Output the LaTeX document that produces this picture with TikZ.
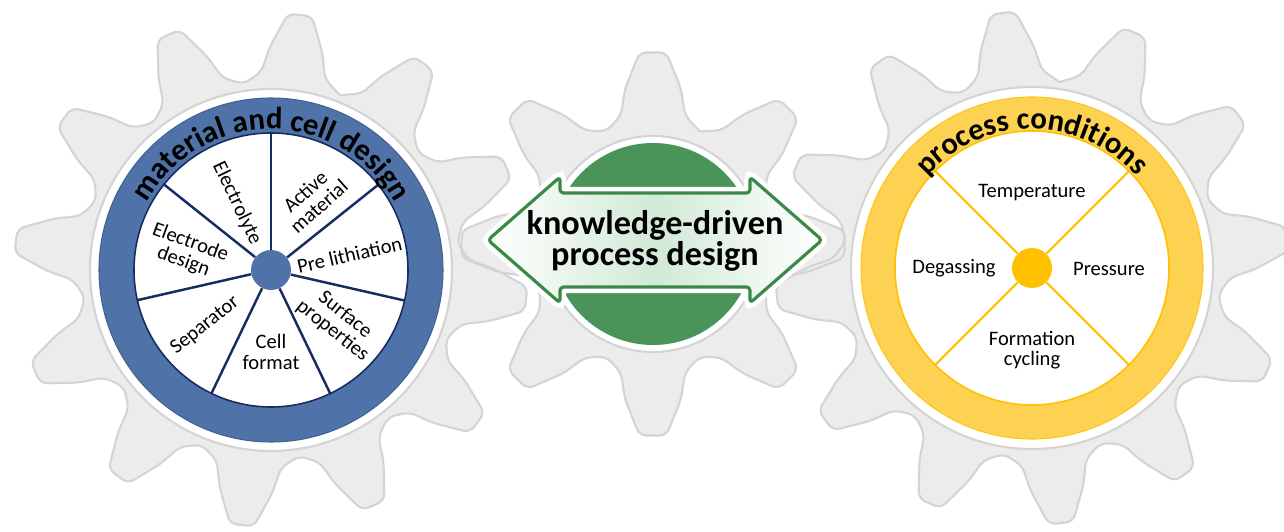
\documentclass[tikz,border=0pt]{standalone}
\usepackage{fontspec}
\setmainfont{Carlito}
\usetikzlibrary{decorations.text}
\definecolor{gearfill}{RGB}{236,236,236}
\definecolor{gearline}{RGB}{212,212,212}
\definecolor{ringblue}{RGB}{79,114,169}
\definecolor{spokeblue}{RGB}{22,45,99}
\definecolor{hubgreen}{RGB}{74,148,90}
\definecolor{arrowgreen}{RGB}{56,138,70}
\definecolor{palegreen}{RGB}{210,233,214}
\definecolor{ringyellow}{RGB}{253,210,83}
\definecolor{darkyellow}{RGB}{255,192,0}
\newcommand{\titlefont}{\fontsize{17.5}{20}\selectfont\bfseries}
% teeth, first tooth angle, root radius, tip radius
\newcommand{\gearpath}[4]{({#2-180/#1}:#3)
  \foreach \k in {1,...,#1}{
    -- ({#2+(\k-1.31)*360/#1}:{#3+0.15*(#4-#3)})
    -- ({#2+(\k-1.23)*360/#1}:{(#3+#4)/2})
    -- ({#2+(\k-1.09)*360/#1}:#4)
    -- ({#2+(\k-0.91)*360/#1}:#4)
    -- ({#2+(\k-0.77)*360/#1}:{(#3+#4)/2})
    -- ({#2+(\k-0.69)*360/#1}:{#3+0.15*(#4-#3)})
    -- ({#2+(\k-0.5)*360/#1}:#3)}}
\tikzset{gearbody/.style={fill=gearfill, rounded corners=4pt}}
\tikzset{gearedge/.style={draw=gearline, line width=1.2pt, rounded corners=4pt, line join=round, line cap=round}}
\tikzset{hub/.style={fill=white, draw=gearline, line width=1.2pt}}
\tikzset{spoke/.style={draw=spokeblue, line width=1.4pt}}
\tikzset{yspoke/.style={draw=darkyellow, line width=1.2pt}}
\tikzset{lab/.style={font=\fontsize{11.7}{11.5}\selectfont, align=center, inner sep=0pt}}
\tikzset{arrowbox/.style={draw=arrowgreen, line width=1.8pt, rounded corners=2pt, line join=round,
    left color=white, right color=white, middle color=palegreen,
    preaction={draw=white, line width=7pt}}}

\begin{document}
\begin{tikzpicture}[x=0.02cm, y=0.02cm]
	\useasboundingbox (0,0) rectangle (1284,531);
	\clip (0,0) rectangle (1284,531);
	\coordinate (lc) at (271,261);
	\coordinate (mc) at (653,287);
	\coordinate (rc) at (1032,263);
	% gears
	\fill[gearbody, shift={(mc)}] \gearpath{8}{90}{122}{192};
	\fill[gearbody, shift={(lc)}] \gearpath{12}{83.5}{188}{257};
	\fill[gearbody, shift={(rc)}] \gearpath{12}{96.5}{188}{257};
	\draw[gearedge, shift={(mc)}] \gearpath{8}{90}{122}{192};
	\draw[gearedge, shift={(lc)}] \gearpath{12}{83.5}{188}{257};
	\draw[gearedge, shift={(rc)}] \gearpath{12}{96.5}{188}{257};
	% material and cell design
	\draw[hub] (lc) circle[radius=181];
	\draw[fill=ringblue, draw=ringblue!85!black, line width=0.6pt] (lc) circle[radius=172];
	\draw[fill=white, draw=spokeblue, line width=0.9pt] (lc) circle[radius=137];
	\node[circle, fill=ringblue, minimum size=0.8cm, inner sep=0pt] (ldot) at (lc) {};
	\foreach \k in {0,...,6} {
		\pgfmathsetmacro\a{90+\k*360/7}
		\draw[spoke] (ldot.\a) -- +(\a:117);
	}
	\path[decorate, decoration={text along path, text align=center,
		text={|\titlefont|material and cell design}}]
		(lc) ++(170:141) arc[start angle=170, end angle=10, radius=141];
	\node[lab, rotate=-64.3] (elyte) at ([shift={(117:75)}]lc) {Electrolyte};
	\node[lab, rotate=42] (active) at ([shift={(60:82)}]lc) {Active\\material};
	\node[lab, rotate=13] (preli) at ([shift={(11:80)}]lc) {Pre lithiation};
	\node[lab, rotate=-38.6] (surf) at ([shift={(-38:86)}]lc) {Surface\\properties};
	\node[lab] (cellf) at ([shift={(-90:82)}]lc) {Cell\\format};
	\node[lab, rotate=38.6] (separ) at ([shift={(220:86)}]lc) {Separator};
	\node[lab, rotate=-20] (electr) at ([shift={(168:86)}]lc) {Electrode\\design};
	% knowledge-driven process design
	\draw[hub] (mc) circle[radius=108];
	\fill[hubgreen] (mc) circle[radius=101];
	\draw[arrowbox] (488,291) -- (560,354) -- (560,338) -- (750,338) -- (750,354) -- (822,291)
		-- (750,228) -- (750,244) -- (560,244) -- (560,228) -- cycle;
	\node[font=\fontsize{19.5}{16.5}\selectfont\bfseries, align=center] (kdpd) at (655,290)
		{knowledge-driven\\process design};
	% process conditions
	\draw[hub] (rc) circle[radius=181];
	\draw[fill=ringyellow, draw=darkyellow!70!ringyellow, line width=0.6pt] (rc) circle[radius=171];
	\draw[fill=white, draw=darkyellow, line width=0.9pt] (rc) circle[radius=137];
	\node[circle, fill=darkyellow, minimum size=0.8cm, inner sep=0pt] (rdot) at (rc) {};
	\foreach \a in {45,135,225,315}
		\draw[yspoke] (rdot.\a) -- +(\a:117);
	\path[decorate, decoration={text along path, text align=center,
		text={|\titlefont|process conditions}}]
		(rc) ++(165:139) arc[start angle=165, end angle=15, radius=139];
	\node[lab] (temp) at ([shift={(0,75)}]rc) {Temperature};
	\node[lab] (degas) at ([shift={(-78,0)}]rc) {Degassing};
	\node[lab] (press) at ([shift={(77,-1)}]rc) {Pressure};
	\node[lab] (form) at ([shift={(0,-82)}]rc) {Formation\\cycling};
\end{tikzpicture}
\end{document}
